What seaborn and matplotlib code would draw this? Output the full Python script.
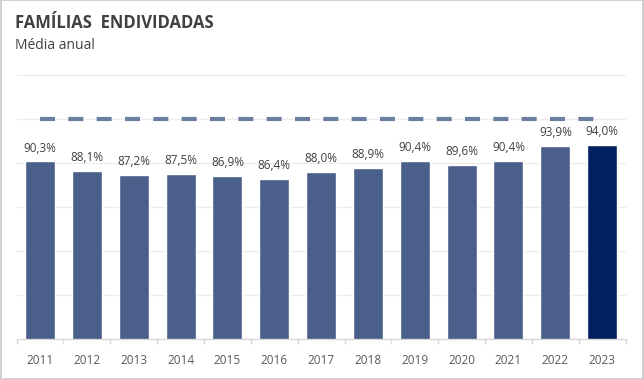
import matplotlib
matplotlib.use("Agg")
import matplotlib.pyplot as plt
import seaborn as sns
import pandas as pd
from matplotlib.patches import Rectangle

years = ["2011", "2012", "2013", "2014", "2015", "2016", "2017", "2018", "2019", "2020", "2021", "2022", "2023"]
values = [90.3, 88.1, 87.2, 87.5, 86.9, 86.4, 88.0, 88.9, 90.4, 89.6, 90.4, 93.9, 94.0]
labels = ["90,3%", "88,1%", "87,2%", "87,5%", "86,9%", "86,4%", "88,0%", "88,9%", "90,4%", "89,6%", "90,4%", "93,9%", "94,0%"]
reference_level = 100
title = "FAMÍLIAS  ENDIVIDADAS"
subtitle = "Média anual"

sns.set_theme(style="white")
plt.rcParams['font.family'] = ['Open Sans', 'DejaVu Sans']

df = pd.DataFrame({"ano": years, "valor": values})
palette = {y: "#4a5f8a" for y in years}
palette[years[-1]] = "#002060"

fig = plt.figure(figsize=(6.44, 3.79), dpi=100)
ax = fig.add_axes([0.0258, 0.1055, 0.9456, 0.6975])

for g in [60, 70, 80, 90, 100, 110]:
    ax.axhline(g, color="#ececec", lw=0.9, zorder=0)

sns.barplot(data=df, x="ano", y="valor", hue="ano", palette=palette, legend=False,
            width=0.64, ax=ax, zorder=2, saturation=1)

ax.plot([0, len(years) - 1], [reference_level, reference_level], color="#6b7da0",
        lw=3, dashes=(3.6, 3.2), solid_capstyle="butt", dash_capstyle="butt", zorder=3)

for i, (v, lab) in enumerate(zip(values, labels)):
    ax.annotate(lab, (i, v), xytext=(0, 5), textcoords="offset points",
                ha="center", va="bottom", fontsize=8.5, color="#404040")

ax.set_ylim(50, 110)
ax.set_xlim(-0.5, len(years) - 0.5)
ax.set_xlabel("")
ax.set_ylabel("")
ax.set_yticks([])
for s in ["top", "right", "left"]:
    ax.spines[s].set_visible(False)
ax.spines["bottom"].set_color("#d9d9d9")
ax.spines["bottom"].set_linewidth(1)

ax.set_xticks(range(len(years)))
ax.set_xticklabels(years, fontsize=8.5, color="#595959")
ax.set_xticks([i - 0.5 for i in range(len(years) + 1)], minor=True)
ax.tick_params(axis="x", which="major", length=0, pad=11)
ax.tick_params(axis="x", which="minor", length=3.5, color="#d9d9d9", width=1, bottom=True)

fig.text(0.023, 0.926, title, fontsize=12, fontweight="bold", color="#404040", ha="left", va="baseline")
fig.text(0.023, 0.871, subtitle, fontsize=10, color="#404040", ha="left", va="baseline")

fig.patches.append(Rectangle((0.0008, 0.0013), 0.9984, 0.9974, transform=fig.transFigure,
                             fill=False, edgecolor="#c8c8c8", lw=1.2))

fig.savefig("out.png", dpi=100)
